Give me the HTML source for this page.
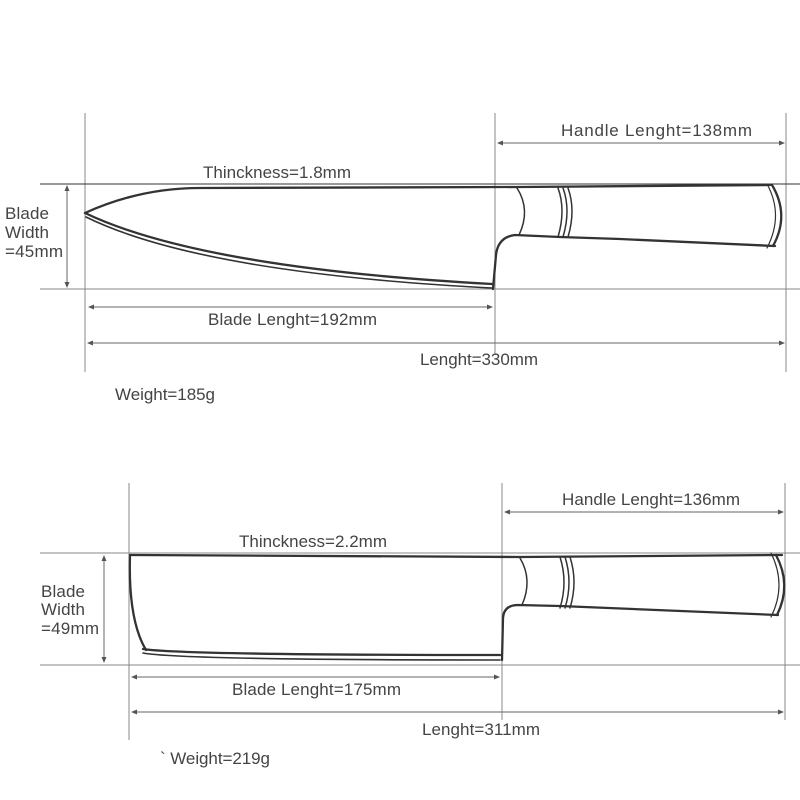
<!DOCTYPE html>
<html><head><meta charset="utf-8"><style>
html,body{margin:0;padding:0;background:#fff;width:800px;height:800px;overflow:hidden}
svg text{font-family:"Liberation Sans",sans-serif;font-size:17px;fill:#444}
</style></head><body>
<svg width="800" height="800" viewBox="0 0 800 800" xmlns="http://www.w3.org/2000/svg">
<defs>
<marker id="a" markerWidth="6" markerHeight="6" refX="5" refY="3" orient="auto-start-reverse"><path d="M0,0.5 L6,3 L0,5.5z" fill="#555"/></marker>
</defs>
<g stroke="#888" stroke-width="1" fill="none">
<line x1="85" y1="113" x2="85" y2="372"/>
<line x1="495" y1="113" x2="495" y2="355"/>
<line x1="786" y1="113" x2="786" y2="372"/>
<line x1="40" y1="289" x2="800" y2="289"/>
<line x1="129" y1="483" x2="129" y2="740"/>
<line x1="502" y1="483" x2="502" y2="720"/>
<line x1="785" y1="483" x2="785" y2="720"/>
<line x1="40" y1="553" x2="800" y2="553"/>
<line x1="40" y1="665" x2="800" y2="665"/>
</g>
<line x1="40" y1="184" x2="800" y2="184" stroke="#333" stroke-width="1"/>
<g stroke="#666" stroke-width="1" marker-start="url(#a)" marker-end="url(#a)">
<line x1="67" y1="186" x2="67" y2="287"/>
<line x1="498" y1="143" x2="784" y2="143"/>
<line x1="89" y1="307" x2="492" y2="307"/>
<line x1="88" y1="343" x2="784" y2="343"/>
<line x1="104" y1="556" x2="104" y2="662"/>
<line x1="505" y1="512" x2="783" y2="512"/>
<line x1="132" y1="677" x2="499" y2="677"/>
<line x1="132" y1="712" x2="783" y2="712"/>
</g>
<g fill="none" stroke="#333" stroke-width="2.3" stroke-linecap="round">
<path d="M85,213 Q140,188 200,188 L520,187 L770,185"/>
<path d="M85,213 Q200,268 492,284"/>
<path d="M86,217 Q200,273 492,288" stroke-width="1.6"/>
<path d="M493,289 L496,255 Q498,237 515,235 L560,237 L620,239 L775,246"/>
<path d="M517,188 Q531,210 519,235" stroke-width="1.5"/>
<path d="M558,188 Q566,210 558,237 M563,188 Q571,210 563,237 M568,188 Q576,210 568,237" stroke-width="1.5"/>
<path d="M772,185 Q790,215 773,246"/>
<path d="M767,184 Q784,215 767,248" stroke-width="1.2"/>
<path d="M130,555 L520,557 L782,555"/>
<path d="M130,555 Q128,620 146,650"/>
<path d="M143,649 Q180,655 500,655"/>
<path d="M143,653 Q180,660 500,660" stroke-width="1.6"/>
<path d="M502,660 L503,618 Q504,605 518,605 L560,606 L778,615"/>
<path d="M520,558 Q533,580 522,605" stroke-width="1.5"/>
<path d="M560,557 Q568,582 560,608 M565,557 Q573,582 565,608 M570,557 Q578,582 570,608" stroke-width="1.5"/>
<path d="M776,555 Q792,585 777,615"/>
<path d="M771,553 Q787,585 771,617" stroke-width="1.2"/>
</g>
<text x="5" y="219" textLength="44">Blade</text>
<text x="5" y="238" textLength="44">Width</text>
<text x="5" y="257" textLength="58">=45mm</text>
<text x="203" y="178" textLength="148">Thinckness=1.8mm</text>
<text x="561" y="136" textLength="191">Handle Lenght=138mm</text>
<text x="208" y="325" textLength="169">Blade Lenght=192mm</text>
<text x="420" y="365" textLength="118">Lenght=330mm</text>
<text x="115" y="400" textLength="100">Weight=185g</text>
<text x="41" y="597" textLength="44">Blade</text>
<text x="41" y="615" textLength="44">Width</text>
<text x="41" y="634" textLength="58">=49mm</text>
<text x="239" y="547" textLength="148">Thinckness=2.2mm</text>
<text x="562" y="505" textLength="178">Handle Lenght=136mm</text>
<text x="232" y="695" textLength="169">Blade Lenght=175mm</text>
<text x="422" y="735" textLength="118">Lenght=311mm</text>
<text x="160" y="764" textLength="110">` Weight=219g</text>
</svg>
</body></html>
